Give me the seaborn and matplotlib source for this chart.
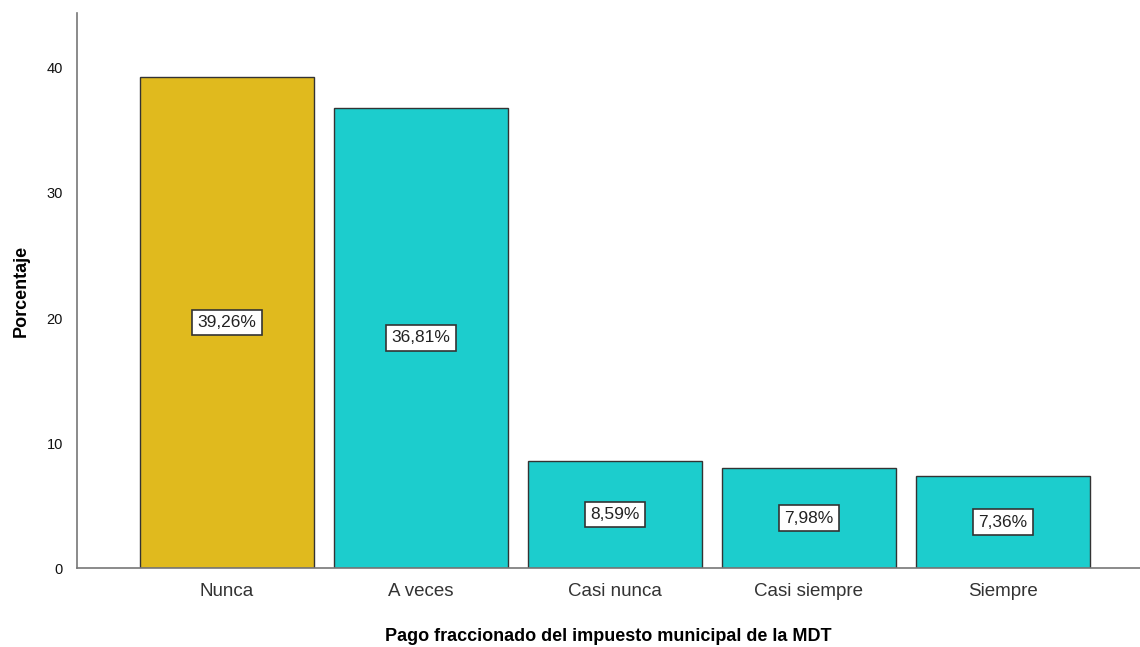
import matplotlib
matplotlib.use("Agg")
import matplotlib.pyplot as plt
import seaborn as sns
import pandas as pd

categories = ["Nunca", "A veces", "Casi nunca", "Casi siempre", "Siempre"]
values = [39.26, 36.81, 8.59, 7.98, 7.36]
labels = ["39,26%", "36,81%", "8,59%", "7,98%", "7,36%"]
colors = ["#E0BA1E", "#1CCDCD", "#1CCDCD", "#1CCDCD", "#1CCDCD"]

sns.set_style("white")
plt.rcParams['font.family'] = ['Liberation Sans', 'DejaVu Sans']

df = pd.DataFrame({"cat": categories, "val": values})
fig = plt.figure(figsize=(11.4, 6.47), dpi=100)
ax = fig.add_axes([0.0675, 0.122, 0.9325, 0.858])
sns.barplot(data=df, x="cat", y="val", hue="cat", palette=colors, order=categories,
            width=0.9, edgecolor="#333333", linewidth=1.0, legend=False,
            saturation=1, ax=ax)

for i, (v, lab) in enumerate(zip(values, labels)):
    ax.text(i, v / 2, lab, ha="center", va="center", fontsize=12.5, color="#222222",
            bbox=dict(boxstyle="square,pad=0.3", fc="white", ec="#333333", lw=1.2))

ax.set_ylim(0, 44.4)
ax.set_xlim(-0.773, 4.706)
ax.set_yticks([0, 10, 20, 30, 40])
ax.tick_params(axis="y", length=0, labelsize=10.5, pad=10, labelcolor="#111111")
ax.tick_params(axis="x", length=0, labelsize=13.5, pad=11, labelcolor="#333333")
for s in ["top", "right"]:
    ax.spines[s].set_visible(False)
for s in ["left", "bottom"]:
    ax.spines[s].set_color("#777777")
    ax.spines[s].set_linewidth(1.2)
ax.set_ylabel("Porcentaje", fontsize=13, fontweight="bold", labelpad=12, color="black")
ax.set_xlabel("Pago fraccionado del impuesto municipal de la MDT", fontsize=13,
              fontweight="bold", labelpad=20, color="black")

fig.savefig("out.png", dpi=100)
